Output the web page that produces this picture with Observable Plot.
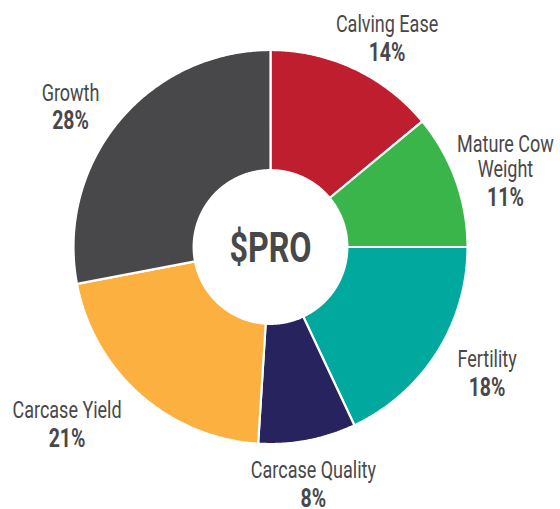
<!DOCTYPE html>
<html>
<head>
<meta charset="utf-8">
<script src="https://cdn.jsdelivr.net/npm/d3@7"></script>
<script src="https://cdn.jsdelivr.net/npm/@observablehq/plot@0.6"></script>
<style>
  html, body { margin: 0; padding: 0; background: #fff; }
  #chart svg { display: block; }
</style>
</head>
<body>
<div id="chart"></div>
<script>
// ---- data ----
const categories = ["Calving Ease", "Mature Cow\nWeight", "Fertility", "Carcase Quality", "Carcase Yield", "Growth"];
const shares = [14, 11, 18, 8, 21, 28];
const colors = ["#BE1E2D", "#3AB54A", "#00A89E", "#27235F", "#FBB040", "#48484A"];
const centerLabel = "$PRO";

// ---- layout (not data) ----
const innerRatio = 0.39;
const labelRadius = [1.24, 1.244, 1.257, 1.195, 1.35, 1.258];
const labelNudgeDeg = [3.3, 3.3, -3.4, 0.3, 8.5, -3.4];
const textColor = "#48484A";
const font = "Roboto, 'Noto Sans', sans-serif";
const condense = 0.75;

const total = d3.sum(shares);
let acc = 0;
const slices = categories.map((name, i) => {
  const a0 = acc / total * 2 * Math.PI;
  acc += shares[i];
  const a1 = acc / total * 2 * Math.PI;
  return {name, value: shares[i], color: colors[i], a0, a1, mid: (a0 + a1) / 2, i};
});

// polygon points for each slice (outer arc then inner arc back)
const polyPts = [];
for (const s of slices) {
  const n = Math.max(8, Math.ceil((s.a1 - s.a0) / (Math.PI / 360)));
  for (let k = 0; k <= n; k++) {
    const a = s.a0 + (s.a1 - s.a0) * k / n;
    polyPts.push({name: s.name, color: s.color, x: Math.sin(a), y: Math.cos(a)});
  }
  for (let k = n; k >= 0; k--) {
    const a = s.a0 + (s.a1 - s.a0) * k / n;
    polyPts.push({name: s.name, color: s.color, x: innerRatio * Math.sin(a), y: innerRatio * Math.cos(a)});
  }
}

const labels = slices.map(s => {
  const a = s.mid + labelNudgeDeg[s.i] * Math.PI / 180;
  const r = labelRadius[s.i];
  return {name: s.name, pct: `${s.value}%`, x: r * Math.sin(a), y: r * Math.cos(a)};
});

const chart = Plot.plot({
  width: 560,
  height: 509,
  marginLeft: 73,
  marginRight: 93,
  marginTop: 49.5,
  marginBottom: 65.5,
  x: {domain: [-1, 1], axis: null},
  y: {domain: [-1, 1], axis: null},
  color: {type: "identity"},
  style: {background: "#fff", overflow: "visible"},
  marks: [
    Plot.line(polyPts, {
      x: "x", y: "y", z: "name", fill: "color",
      stroke: "#fff", strokeWidth: 2.2, curve: "linear-closed", strokeLinejoin: "miter"
    }),
    Plot.text([centerLabel], {
      x: [0], y: [0], text: d => d, fontSize: 43, fontWeight: "bold",
      fill: textColor, fontFamily: font, dy: 1
    }),
    Plot.text(labels, {
      x: "x", y: "y", text: "name", lineAnchor: "bottom", lineHeight: 1.06,
      fontSize: 24, fill: textColor, fontFamily: font
    }),
    Plot.text(labels, {
      x: "x", y: "y", text: "pct", lineAnchor: "bottom", dy: 28.5,
      fontSize: 26, fontWeight: "bold", fill: textColor, fontFamily: font
    })
  ]
});
// narrow the glyphs horizontally around each text's own anchor (condensed look)
chart.querySelectorAll("text").forEach(t => {
  const tr = t.getAttribute("transform");
  if (tr) t.setAttribute("transform", `${tr} scale(${condense},1)`);
});
document.getElementById("chart").append(chart);
</script>
</body>
</html>
